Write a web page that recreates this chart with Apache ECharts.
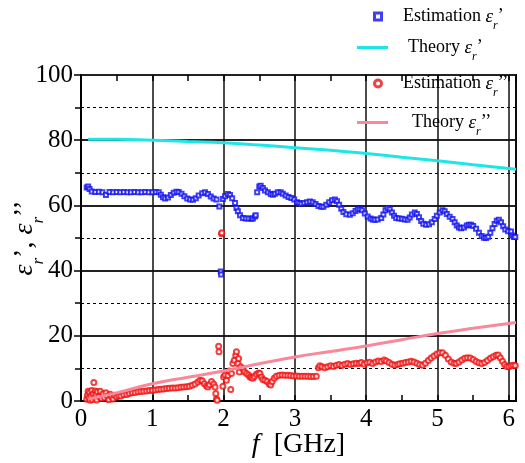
<!DOCTYPE html>
<html><head><meta charset="utf-8">
<script src="https://cdn.jsdelivr.net/npm/echarts@6/dist/echarts.min.js"></script>
<style>html,body{margin:0;padding:0;background:#fff}#c{width:525px;height:463px}</style>
</head><body><div id="c"></div>
<script>
// ---- data (frequency in GHz, permittivity) ----
const estReal = [
[0.08,65.5],[0.10,65.8],[0.12,65.0],[0.15,64.3],[0.20,64.1],[0.25,64.2],[0.30,64.0],[0.35,63.2],[0.40,64.1],[0.45,64.0],
[0.50,64.1],[0.55,64.0],[0.60,64.1],[0.65,64.0],[0.70,64.0],[0.75,64.1],[0.80,64.0],[0.85,64.0],[0.90,64.1],[0.95,64.0],
[1.00,64.0],[1.05,64.1],[1.09,64.0],[1.12,63.3],[1.15,62.5],[1.18,62.1],[1.22,62.4],[1.26,63.2],[1.30,63.9],[1.34,64.2],
[1.37,64.1],[1.41,63.6],[1.45,62.8],[1.49,62.1],[1.53,61.8],[1.57,61.7],[1.61,62.2],[1.65,63.0],[1.70,63.7],[1.74,64.0],
[1.78,63.5],[1.82,62.7],[1.86,62.1],[1.90,61.8],[1.94,59.7],[1.96,39.7],[1.965,38.8],[1.99,62.0],[2.02,62.8],[2.06,63.5],
[2.09,63.2],[2.12,62.2],[2.16,60.7],[2.18,59.2],[2.20,58.2],[2.23,57.0],[2.27,56.1],[2.31,56.0],[2.35,56.0],[2.39,55.9],
[2.41,56.0],[2.44,56.6],[2.45,57.0],[2.47,64.0],[2.50,65.8],[2.52,66.0],[2.55,65.3],[2.58,64.6],[2.62,64.0],[2.66,63.5],
[2.69,63.3],[2.72,63.6],[2.76,64.0],[2.80,64.0],[2.83,63.6],[2.87,63.0],[2.91,62.6],[2.95,62.3],[2.99,61.8],[3.03,61.0],
[3.06,60.7],[3.09,60.5],[3.13,60.7],[3.17,61.0],[3.21,61.2],[3.25,61.0],[3.29,60.4],[3.33,59.8],[3.37,59.6],[3.40,59.6],
[3.44,60.2],[3.48,61.0],[3.52,61.6],[3.56,61.8],[3.59,61.3],[3.62,60.2],[3.65,59.0],[3.68,58.0],[3.72,57.3],[3.77,57.1],
[3.81,57.6],[3.85,58.3],[3.88,58.8],[3.91,58.9],[3.94,58.5],[3.98,57.5],[4.02,56.6],[4.06,56.0],[4.09,55.7],[4.12,55.6],
[4.16,55.7],[4.21,56.1],[4.24,57.2],[4.27,58.5],[4.30,59.2],[4.33,58.8],[4.36,57.8],[4.39,56.8],[4.42,56.1],[4.46,56.0],
[4.50,55.9],[4.54,55.7],[4.58,55.6],[4.61,56.3],[4.64,57.2],[4.68,57.8],[4.71,57.4],[4.74,56.4],[4.77,55.2],[4.80,54.4],
[4.84,54.1],[4.88,54.2],[4.92,54.8],[4.96,55.8],[4.99,56.8],[5.03,57.8],[5.07,58.5],[5.10,58.2],[5.13,57.4],[5.17,56.5],
[5.21,55.8],[5.24,54.8],[5.27,53.8],[5.30,53.2],[5.33,53.0],[5.37,53.2],[5.41,53.8],[5.44,54.1],[5.47,54.1],[5.50,53.7],
[5.54,52.8],[5.58,51.6],[5.62,50.6],[5.65,50.1],[5.68,50.0],[5.71,50.4],[5.74,51.6],[5.77,53.0],[5.80,54.3],[5.83,55.3],
[5.86,55.6],[5.89,54.8],[5.92,53.6],[5.95,52.6],[5.99,52.1],[6.03,52.0],[6.05,50.8],[6.07,50.3],[6.09,50.3]
];
const theoryReal = [
[0.1,80.3],[0.5,80.3],[1.0,80.0],[1.5,79.6],[2.0,79.2],[2.5,78.5],[3.0,77.7],[3.5,76.9],[4.0,75.9],[4.5,74.8],[5.0,73.7],[5.5,72.5],[6.1,71.1]
];
const estImag = [
[0.08,0.5],[0.09,1.8],[0.10,3.0],[0.11,1.0],[0.12,2.6],[0.13,0.2],[0.14,1.5],[0.15,3.2],[0.16,0.4],[0.17,2.2],
[0.18,5.7],[0.19,1.0],[0.20,3.1],[0.21,2.0],[0.22,0.3],[0.23,2.8],[0.25,1.4],[0.27,3.0],[0.29,0.8],[0.31,2.2],
[0.33,1.0],[0.35,2.5],[0.37,1.5],[0.39,0.4],[0.41,2.1],[0.43,1.2],[0.45,0.6],[0.47,1.8],[0.50,1.2],[0.53,1.6],
[0.56,1.5],[0.60,1.9],[0.64,2.0],[0.68,2.3],[0.72,2.5],[0.76,2.6],[0.80,2.8],[0.84,2.9],[0.88,3.0],[0.92,3.1],
[0.96,3.2],[1.00,3.3],[1.04,3.4],[1.08,3.5],[1.12,3.6],[1.16,3.7],[1.20,3.8],[1.24,3.9],[1.28,4.0],[1.32,4.0],
[1.36,4.1],[1.40,4.2],[1.44,4.3],[1.48,4.4],[1.52,4.5],[1.56,4.8],[1.60,5.2],[1.64,5.8],[1.67,6.4],[1.70,6.2],
[1.73,5.3],[1.76,4.6],[1.78,4.3],[1.80,5.0],[1.83,6.0],[1.86,5.2],[1.88,4.3],[1.89,2.3],[1.90,0.6],[1.91,0.2],
[1.93,16.8],[1.935,15.1],[1.97,51.3],[1.975,51.6],[1.99,4.5],[2.00,7.4],[2.02,8.0],[2.04,6.4],[2.06,7.8],[2.08,9.2],
[2.10,3.5],[2.11,8.4],[2.13,11.5],[2.15,12.5],[2.17,14.0],[2.18,15.1],[2.20,11.5],[2.21,13.0],[2.22,8.9],[2.24,10.5],
[2.27,10.0],[2.29,9.0],[2.32,8.4],[2.35,8.0],[2.37,7.4],[2.39,7.2],[2.41,7.0],[2.43,7.5],[2.46,8.2],[2.49,8.6],
[2.51,8.4],[2.53,7.4],[2.55,6.6],[2.58,6.4],[2.61,6.0],[2.64,5.2],[2.66,4.9],[2.68,6.0],[2.71,7.0],[2.74,7.6],
[2.78,7.9],[2.82,8.0],[2.86,7.9],[2.90,7.9],[2.94,7.8],[2.98,7.7],[3.02,7.7],[3.06,7.6],[3.10,7.6],[3.14,7.6],
[3.18,7.6],[3.22,7.5],[3.26,7.5],[3.30,7.6],[3.33,10.2],[3.35,10.8],[3.38,10.5],[3.42,10.2],[3.46,10.5],[3.50,10.8],
[3.54,10.6],[3.58,11.0],[3.62,11.2],[3.66,10.9],[3.70,11.3],[3.74,11.5],[3.78,11.2],[3.82,11.4],[3.86,11.6],[3.90,11.5],
[3.93,11.8],[3.97,11.3],[4.01,11.7],[4.05,11.9],[4.09,11.5],[4.13,12.0],[4.17,12.3],[4.21,12.1],[4.25,12.6],[4.28,12.3],
[4.32,11.8],[4.36,11.3],[4.40,11.0],[4.44,11.2],[4.47,11.4],[4.51,11.6],[4.55,11.8],[4.59,12.0],[4.63,12.2],[4.67,12.0],
[4.71,11.6],[4.75,11.2],[4.79,11.0],[4.83,11.6],[4.87,12.4],[4.91,13.2],[4.95,13.8],[4.99,14.4],[5.03,14.8],[5.07,14.8],
[5.11,14.0],[5.15,12.9],[5.19,12.0],[5.23,11.6],[5.26,11.5],[5.30,12.0],[5.34,12.6],[5.38,13.1],[5.42,13.3],[5.46,13.2],
[5.50,12.7],[5.54,12.1],[5.58,11.7],[5.62,11.5],[5.66,11.8],[5.70,12.4],[5.74,13.1],[5.78,13.6],[5.82,14.0],[5.85,14.1],
[5.88,13.3],[5.91,12.2],[5.94,11.2],[5.97,10.6],[6.00,10.5],[6.03,10.8],[6.06,11.0],[6.09,10.9]
];
const theoryImag = [
[0.1,0.6],[0.5,2.5],[1.0,5.3],[1.5,7.3],[2.0,9.2],[2.5,11.4],[3.0,13.5],[3.5,15.2],[4.0,16.9],[4.5,18.8],[5.0,20.7],[5.5,22.3],[6.1,24.1]
];
const xTicks = [0,1,2,3,4,5,6];
const yTicks = [0,20,40,60,80,100];

const SERIF = 'Liberation Serif';
const BLUE = '#1010f0', CYAN = '#1ee6e6', RED = '#f01010', PINK = '#f8889a';
const names = {
  estR: 'Estimation εr\u2019',
  thR: 'Theory εr\u2019',
  estI: 'Estimation εr\u2019\u2019',
  thI: 'Theory εr\u2019\u2019'
};
const richLeg = {
  t: {fontFamily: SERIF, fontSize: 18, color: '#000'},
  e: {fontFamily: SERIF, fontSize: 19, fontStyle: 'italic', color: '#000'},
  s: {fontFamily: SERIF, fontSize: 12, fontStyle: 'italic', color: '#000', verticalAlign: 'bottom', padding: [0,0,-6,0]},
  g1: {width: 15}, g2: {width: 15}, g3: {width: 19}
};
const legFmt = {};
legFmt[names.estR] = '{g1|}{t|Estimation }{e|ε}{s|r}{t|\u2019}';
legFmt[names.thR] = '{g2|}{t|Theory }{e|ε}{s|r}{t|\u2019}';
legFmt[names.estI] = '{g1|}{t|Estimation }{e|ε}{s|r}{t|\u2019\u2019}';
legFmt[names.thI] = '{g3|}{t|Theory }{e|ε}{s|r}{t|\u2019\u2019}';

// legend icons: hollow square / ring with thick outline
const ICON_SQ = 'path://M0,0H10V10H0Z M3,3V7H7V3Z';
const ICON_RING = 'path://M5,0A5,5 0 1,1 5,10A5,5 0 1,1 5,0Z M5,3A2,2 0 1,0 5,7A2,2 0 1,0 5,3Z';

function mkLegend(name, left, top, w, h, icon, style) {
  return {
    data: [{name: name, icon: icon, itemStyle: style}], left: left, top: top, padding: 0,
    itemWidth: w, itemHeight: h,
    selectedMode: false, formatter: n => legFmt[n],
    textStyle: {rich: richLeg, fontFamily: SERIF, fontSize: 18}
  };
}

const chart = echarts.init(document.getElementById('c'), null, {renderer: 'canvas'});
chart.setOption({
  animation: false,
  backgroundColor: '#fff',
  grid: {left: 81, top: 75, width: 435, height: 326, show: true, borderColor: '#000', borderWidth: 2,
         backgroundColor: 'transparent', containLabel: false, outerBoundsMode: 'none'},
  legend: [
    mkLegend(names.estR, 373, 7, 10, 10, ICON_SQ, {color: BLUE, borderWidth: 0}),
    mkLegend(names.thR, 357, 38, 31, 3, 'rect', {color: CYAN, borderWidth: 0}),
    mkLegend(names.estI, 373, 74, 10, 10, ICON_RING, {color: RED, borderWidth: 0}),
    mkLegend(names.thI, 357, 113, 31, 3, 'rect', {color: PINK, borderWidth: 0})
  ],
  xAxis: [
    {
      type: 'value', min: 0, max: 6.1, interval: 1, position: 'bottom',
      axisLine: {show: true, lineStyle: {color: '#000', width: 2}},
      axisTick: {show: false},
      axisLabel: {fontFamily: SERIF, fontSize: 25, color: '#000', margin: 6,
        formatter: v => (xTicks.indexOf(Math.round(v * 1000) / 1000) >= 0 ? String(v) : '')},
      splitLine: {show: true, lineStyle: {color: '#111', width: 1.5}},
      name: '{i|f}{n|  [GHz]}', nameLocation: 'middle', nameGap: 30, nameMoveOverlap: false,
      nameTextStyle: {rich: {
        i: {fontFamily: SERIF, fontSize: 28, fontStyle: 'italic', color: '#000'},
        n: {fontFamily: SERIF, fontSize: 28, color: '#000'}
      }}
    },
    {
      type: 'value', min: 0, max: 6.1, interval: 0.5, position: 'bottom', gridIndex: 0,
      axisLine: {show: false}, axisLabel: {show: false}, splitLine: {show: false},
      axisTick: {show: true, inside: true, length: 6, lineStyle: {color: '#000', width: 1.5}}
    },
    {
      type: 'value', min: 0, max: 6.1, interval: 0.5, position: 'top', gridIndex: 0,
      axisLine: {show: false}, axisLabel: {show: false}, splitLine: {show: false},
      axisTick: {show: true, inside: true, length: 6, lineStyle: {color: '#000', width: 1.5}}
    }
  ],
  yAxis: [
    {
      type: 'value', min: 0, max: 100, interval: 20, position: 'left',
      axisLine: {show: true, lineStyle: {color: '#000', width: 2}},
      axisTick: {show: false},
      axisLabel: {fontFamily: SERIF, fontSize: 25, color: '#000', margin: 8,
        formatter: v => (yTicks.indexOf(v) >= 0 ? String(v) : '')},
      splitLine: {show: true, lineStyle: {color: '#222', width: 2}},
      minorTick: {show: true, splitNumber: 2, length: 6, lineStyle: {color: '#000', width: 1.5}},
      minorSplitLine: {show: true, lineStyle: {color: '#000', width: 1, type: [3, 3]}},
      name: '{e|ε}{s|r}{n|\u2019, }{e|ε}{s|r}{n|\u2019\u2019}', nameLocation: 'middle', nameRotate: 90,
      nameGap: 42, nameMoveOverlap: false,
      nameTextStyle: {rich: {
        e: {fontFamily: SERIF, fontSize: 28, fontStyle: 'italic', color: '#000'},
        s: {fontFamily: SERIF, fontSize: 17, fontStyle: 'italic', color: '#000', verticalAlign: 'bottom', padding: [0,0,-8,0]},
        n: {fontFamily: SERIF, fontSize: 28, color: '#000'}
      }}
    },
    {
      type: 'value', min: 0, max: 100, interval: 20, position: 'right',
      axisLine: {show: false}, axisLabel: {show: false}, splitLine: {show: false},
      axisTick: {show: true, inside: true, length: 7, lineStyle: {color: '#000', width: 1.5}},
      minorTick: {show: true, splitNumber: 2, length: 6, lineStyle: {color: '#000', width: 1.5}}
    }
  ],
  series: [
    {
      name: names.estR, type: 'scatter', data: estReal, symbol: 'emptyRect', symbolSize: 4,
      itemStyle: {color: BLUE, borderColor: BLUE, borderWidth: 1.6}, z: 3
    },
    {
      name: names.thR, type: 'line', data: theoryReal, symbol: 'none', smooth: true,
      lineStyle: {color: CYAN, width: 3}, itemStyle: {color: CYAN}, z: 4
    },
    {
      name: names.estI, type: 'scatter', data: estImag, symbol: 'emptyCircle', symbolSize: 5,
      itemStyle: {color: RED, borderColor: RED, borderWidth: 1.3}, z: 3
    },
    {
      name: names.thI, type: 'line', data: theoryImag, symbol: 'none', smooth: true,
      lineStyle: {color: PINK, width: 3}, itemStyle: {color: PINK}, z: 4
    }
  ]
});
</script>
</body></html>
